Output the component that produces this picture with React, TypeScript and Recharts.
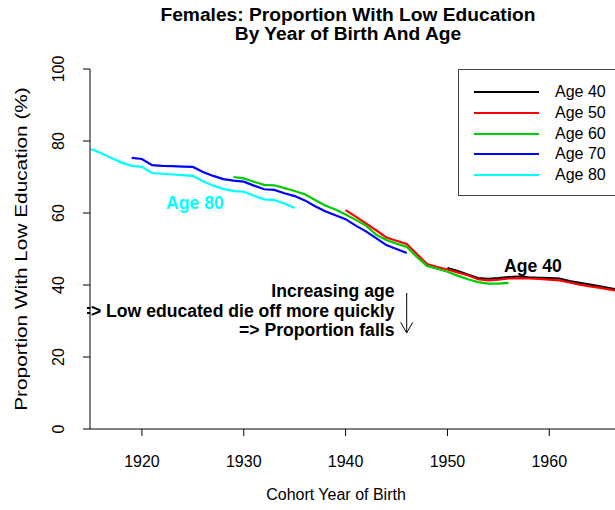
import React from 'react';
import { LineChart, Line, XAxis, YAxis, Legend, ReferenceDot, ReferenceArea, ReferenceLine } from 'recharts';

// % of women with low education, one value per cohort year, starting at *_FROM
const AGE40_FROM = 1950;
const AGE40 = [44.7, 43.9, 42.9, 41.9, 41.7, 41.9, 42.2, 42.3, 42.1, 42.0, 41.9, 41.8, 41.1, 40.6, 40.1, 39.6, 39.1, 38.6];
const AGE50_FROM = 1940;
const AGE50 = [60.8, 59.0, 57.1, 55.2, 53.2, 52.3, 51.4, 48.6, 45.8, 45.0, 44.3, 43.5, 42.7, 41.6, 41.3, 41.5, 41.8, 41.9, 41.8, 41.7, 41.5, 41.3, 40.7, 40.1, 39.6, 39.2, 38.7, 38.2];
const AGE60_FROM = 1929;
const AGE60 = [70.0, 69.6, 68.7, 67.8, 67.7, 66.9, 66.1, 65.2, 63.6, 62.1, 61.0, 59.6, 58.1, 56.5, 54.0, 52.5, 51.5, 50.6, 47.8, 45.3, 44.5, 43.7, 42.6, 41.6, 40.8, 40.4, 40.4, 40.6];
const AGE70_FROM = 1919;
const AGE70 = [75.3, 75.0, 73.3, 73.1, 73.0, 72.9, 72.8, 71.4, 70.3, 69.4, 69.0, 68.7, 67.6, 66.6, 66.4, 65.5, 64.7, 63.5, 61.9, 60.5, 59.4, 58.3, 56.5, 54.9, 53.0, 51.1, 50.0, 48.9];
const AGE80_FROM = 1915;
const AGE80 = [77.8, 76.6, 75.3, 74.0, 73.1, 72.8, 71.1, 70.9, 70.7, 70.5, 70.3, 68.8, 67.6, 66.7, 66.1, 65.9, 64.8, 63.8, 63.6, 62.6, 61.4];

const FIRST_YEAR = 1915;
const LAST_YEAR = 1967;
const X_TICKS = [1920, 1930, 1940, 1950, 1960];
const Y_TICKS = [0, 20, 40, 60, 80, 100];

const SERIES = [
  { key: 'age40', name: 'Age 40', color: '#000000', from: AGE40_FROM, values: AGE40 },
  { key: 'age50', name: 'Age 50', color: '#FF0000', from: AGE50_FROM, values: AGE50 },
  { key: 'age60', name: 'Age 60', color: '#00CD00', from: AGE60_FROM, values: AGE60 },
  { key: 'age70', name: 'Age 70', color: '#0000FF', from: AGE70_FROM, values: AGE70 },
  { key: 'age80', name: 'Age 80', color: '#00FFFF', from: AGE80_FROM, values: AGE80 },
];

const data: any[] = [];
for (let year = FIRST_YEAR; year <= LAST_YEAR; year++) {
  const row: any = { year };
  SERIES.forEach((s) => {
    const i = year - s.from;
    if (i >= 0 && i < s.values.length) row[s.key] = s.values[i];
  });
  data.push(row);
}

const FONT = '"Liberation Sans", Arial, Helvetica, sans-serif';

const YTick = (props: any) => {
  const { x, y, payload } = props;
  const tx = x - 17;
  return (
    <text x={tx} y={y} transform={`rotate(-90, ${tx}, ${y})`} textAnchor="middle" fontSize={16} fill="#000">
      {payload.value}
    </text>
  );
};

const LegendBox = (props: any) => {
  const payload = props.payload || [];
  return (
    <div style={{ position: 'relative', width: 220, height: 127, border: '1px solid #444', boxSizing: 'border-box', background: '#fff', fontFamily: FONT }}>
      {payload.map((p: any, i: number) => (
        <div key={p.value} style={{ position: 'absolute', left: 15, top: 13 + i * 20.8, height: 18, display: 'flex', alignItems: 'center' }}>
          <div style={{ width: 65, height: 2.2, background: p.color }} />
          <span style={{ marginLeft: 16, fontSize: 16, color: '#000' }}>{p.value}</span>
        </div>
      ))}
    </div>
  );
};

// multi-line note, right aligned, clipped at the plot's left edge like R does
const NoteBlock = (props: any) => {
  const { x, y, width, height } = props;
  const right = x + width;
  const mid = y + height / 2;
  return (
    <g>
      <defs>
        <clipPath id="note-clip">
          <rect x={x - 3} y={y - 20} width={width + 13} height={height + 40} />
        </clipPath>
      </defs>
      <g clipPath="url(#note-clip)">
        <text textAnchor="end" fontSize={17.6} fontWeight="bold" fill="#000">
          <tspan x={right} y={mid - 19.5 + 6.3}>Increasing age</tspan>
          <tspan x={right} y={mid + 6.3}>{'=> Low educated die off more quickly'}</tspan>
          <tspan x={right} y={mid + 19.5 + 6.3}>{'=> Proportion falls'}</tspan>
        </text>
      </g>
    </g>
  );
};

const Arrow = (props: any) => {
  const { x1, y1, x2, y2 } = props;
  return (
    <g stroke="#000" strokeWidth={1} fill="none">
      <line x1={x1} y1={y1} x2={x2} y2={y2} />
      <line x1={x2 - 6} y1={y2 - 10.5} x2={x2} y2={y2} />
      <line x1={x2 + 6} y1={y2 - 10.5} x2={x2} y2={y2} />
    </g>
  );
};

const makeLabel = (text: string, color: string) => (p: any) => (
  <text x={p.cx} y={p.cy} dy={6.3} textAnchor="middle" fontSize={17.6} fontWeight="bold" fill={color}>
    {text}
  </text>
);

export default function App() {
  return (
    <div style={{ position: 'absolute', left: 0, top: 0, width: 615, height: 510, overflow: 'hidden', background: '#fff', fontFamily: FONT }}>
      <LineChart width={720} height={510} data={data} margin={{ top: 69, right: 18, left: 0, bottom: 0 }}>
        <XAxis
          type="number"
          dataKey="year"
          domain={[1914.9, 1975]}
          allowDataOverflow
          ticks={X_TICKS}
          tickSize={7}
          tickMargin={20}
          height={81}
          stroke="#000"
          tick={{ fill: '#000', fontSize: 16 }}
        />
        <YAxis
          type="number"
          domain={[0, 100]}
          ticks={Y_TICKS}
          width={90}
          tickSize={7}
          stroke="#000"
          tick={<YTick />}
        />
        {SERIES.map((s) => (
          <Line
            key={s.key}
            type="linear"
            dataKey={s.key}
            name={s.name}
            stroke={s.color}
            strokeWidth={2.2}
            dot={false}
            activeDot={false}
            isAnimationActive={false}
          />
        ))}
        <ReferenceDot x={1925.2} y={62.8} r={0} shape={makeLabel('Age 80', '#00FFFF')} />
        <ReferenceDot x={1958.4} y={45.5} r={0} shape={makeLabel('Age 40', '#000000')} />
        <ReferenceArea x1={1914.9} x2={1944.8} y1={27.9} y2={37.9} shape={<NoteBlock />} />
        <ReferenceLine segment={[{ x: 1946, y: 37.8 }, { x: 1946, y: 26.7 }]} shape={<Arrow />} />
        <Legend
          layout="vertical"
          align="center"
          verticalAlign="middle"
          content={<LegendBox />}
          wrapperStyle={{ left: 458, top: 69, width: 220, height: 127 }}
        />
      </LineChart>
      <svg width={615} height={510} style={{ position: 'absolute', left: 0, top: 0, pointerEvents: 'none' }} fontFamily={FONT}>
        <text x={348} y={21} textAnchor="middle" fontSize={19.2} fontWeight="bold" fill="#000">
          Females: Proportion With Low Education
        </text>
        <text x={348} y={40} textAnchor="middle" fontSize={19.2} fontWeight="bold" fill="#000">
          By Year of Birth And Age
        </text>
        <text x={336} y={500} textAnchor="middle" fontSize={16} fill="#000">
          Cohort Year of Birth
        </text>
        <text x={0} y={0} transform="translate(27, 249) rotate(-90) scale(1.3, 1)" textAnchor="middle" fontSize={16} fill="#000">
          Proportion With Low Education (%)
        </text>
      </svg>
    </div>
  );
}
